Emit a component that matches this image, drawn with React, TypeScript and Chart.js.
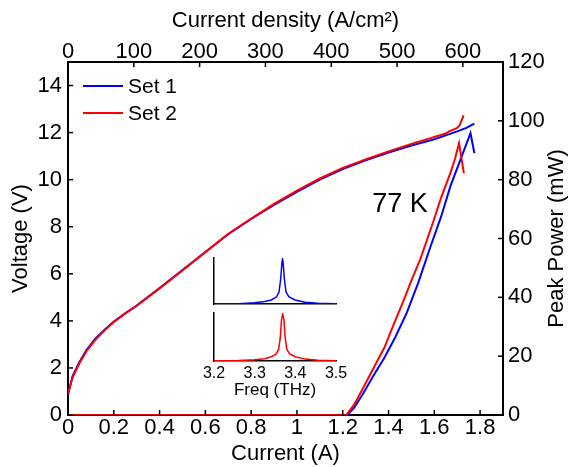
import React, { useEffect, useRef } from "react";
import { Chart, registerables } from "chart.js";

Chart.register(...registerables);

const FONT_FAMILY = "'Liberation Sans', Arial, Helvetica, sans-serif";

// ---------- Main L-I-V data (current in A) ----------
const set1VoltCurrent = [0, 0.02, 0.05, 0.08, 0.12, 0.16, 0.2, 0.25, 0.3, 0.4, 0.5, 0.6, 0.7, 0.8, 0.9, 1.0, 1.1, 1.2, 1.3, 1.4, 1.5, 1.6, 1.65, 1.7, 1.74, 1.775];
const set1Voltage = [0.88, 1.65, 2.25, 2.75, 3.25, 3.62, 3.97, 4.32, 4.65, 5.4, 6.16, 6.93, 7.68, 8.33, 8.93, 9.48, 10.0, 10.45, 10.82, 11.15, 11.45, 11.72, 11.88, 12.05, 12.2, 12.38];

const set2VoltCurrent = [0, 0.02, 0.05, 0.08, 0.12, 0.16, 0.2, 0.25, 0.3, 0.4, 0.5, 0.6, 0.7, 0.8, 0.9, 1.0, 1.1, 1.2, 1.3, 1.4, 1.5, 1.6, 1.65, 1.665, 1.7, 1.71, 1.728];
const set2Voltage = [0.9, 1.6, 2.2, 2.7, 3.2, 3.6, 3.95, 4.32, 4.64, 5.38, 6.14, 6.92, 7.7, 8.35, 8.97, 9.53, 10.05, 10.5, 10.86, 11.2, 11.52, 11.82, 11.96, 12.05, 12.2, 12.3, 12.73];

const set1PowerCurrent = [0, 0.2, 0.4, 0.6, 0.8, 1.0, 1.2, 1.22, 1.25, 1.29, 1.33, 1.38, 1.43, 1.48, 1.53, 1.58, 1.63, 1.67, 1.72, 1.758, 1.775];
const set1Power = [0, 0, 0, 0, 0, 0, 0, 0, 2.5, 7.4, 12.8, 19.2, 26.5, 34.8, 45, 56.5, 67.5, 77.7, 88, 95.8, 89];

const set2PowerCurrent = [0, 0.2, 0.4, 0.6, 0.8, 1.0, 1.2, 1.215, 1.25, 1.292, 1.33, 1.38, 1.42, 1.466, 1.5, 1.539, 1.598, 1.63, 1.67, 1.69, 1.708, 1.729];
const set2Power = [0, 0, 0, 0, 0, 0, 0, 0, 3.5, 9.6, 15.3, 22.6, 30.3, 39, 45.8, 53, 66.3, 74, 82.2, 87, 92.4, 82.2];

// ---------- Axis ticks ----------
const currentTicks = [0, 0.2, 0.4, 0.6, 0.8, 1, 1.2, 1.4, 1.6, 1.8];
const densityTicks = [0, 100, 200, 300, 400, 500, 600];
const voltageTicks = [0, 2, 4, 6, 8, 10, 12, 14];
const powerTicks = [0, 20, 40, 60, 80, 100, 120];

// ---------- Inset spectra (normalized) ----------
const specFreqTicks = [3.2, 3.3, 3.4, 3.5];
const spec1Freq = [3.2, 3.26, 3.3, 3.325, 3.341, 3.354, 3.36, 3.364, 3.367, 3.3685, 3.37, 3.373, 3.377, 3.384, 3.399, 3.424, 3.456, 3.5];
const spec1Amp = [0.0, 0.007, 0.03, 0.057, 0.09, 0.16, 0.27, 0.56, 0.91, 1.0, 0.91, 0.56, 0.27, 0.16, 0.09, 0.04, 0.014, 0.005];
const spec2Freq = [3.2, 3.26, 3.3, 3.325, 3.341, 3.352, 3.359, 3.363, 3.366, 3.369, 3.372, 3.375, 3.379, 3.386, 3.4, 3.424, 3.456, 3.5];
const spec2Amp = [0.003, 0.01, 0.025, 0.05, 0.09, 0.14, 0.25, 0.5, 0.88, 1.0, 0.88, 0.5, 0.25, 0.15, 0.09, 0.04, 0.015, 0.005];

// ---------- Labels ----------
const setLabels = ["Set 1", "Set 2"];
const setColors = ["#0000ff", "#ff0000"];
const xTitle = "Current (A)";
const x2Title = "Current density (A/cm\u00b2)";
const yTitle = "Voltage (V)";
const y2Title = "Peak Power (mW)";
const tempLabel = "77 K";
const insetXTitle = "Freq (THz)";

const toXY = (xs: number[], ys: number[]) => xs.map((x, i) => ({ x, y: ys[i] }));
const fixedTicks = (values: number[]) => (scale: any) => {
  scale.ticks = values.map((v) => ({ value: v }));
};
const fmt = (v: any) => String(+Number(v).toFixed(2));
const font = (size: number) => ({ family: FONT_FAMILY, size, weight: "normal" as const });

const decorPlugin = {
  id: "decor",
  afterDraw(chart: any) {
    const { ctx, chartArea: a, scales } = chart;
    ctx.save();
    // inward tick marks
    ctx.strokeStyle = "#000";
    ctx.lineWidth = 1.5;
    const len = 5;
    for (const s of Object.values(scales) as any[]) {
      for (const t of s.ticks) {
        const p = s.getPixelForValue(t.value);
        ctx.beginPath();
        if (s.position === "bottom") { ctx.moveTo(p, a.bottom); ctx.lineTo(p, a.bottom - len); }
        else if (s.position === "top") { ctx.moveTo(p, a.top); ctx.lineTo(p, a.top + len); }
        else if (s.position === "left") { ctx.moveTo(a.left, p); ctx.lineTo(a.left + len, p); }
        else { ctx.moveTo(a.right, p); ctx.lineTo(a.right - len, p); }
        ctx.stroke();
      }
    }
    // legend
    ctx.font = `21px ${FONT_FAMILY}`;
    ctx.textBaseline = "middle";
    ctx.textAlign = "left";
    setLabels.forEach((lab, i) => {
      const y = a.top + 24 + i * 27;
      ctx.strokeStyle = setColors[i];
      ctx.lineWidth = 2;
      ctx.beginPath();
      ctx.moveTo(a.left + 15, y);
      ctx.lineTo(a.left + 55, y);
      ctx.stroke();
      ctx.fillStyle = "#000";
      ctx.fillText(lab, a.left + 60, y + 1);
    });
    // temperature annotation
    ctx.font = `27px ${FONT_FAMILY}`;
    ctx.textAlign = "center";
    ctx.fillText(tempLabel, scales.x.getPixelForValue(1.45), scales.y.getPixelForValue(8.95));
    // right axis title (reads bottom to top)
    ctx.font = `22px ${FONT_FAMILY}`;
    ctx.translate(557, (a.top + a.bottom) / 2);
    ctx.rotate(-Math.PI / 2);
    ctx.fillText(y2Title, 0, 0);
    ctx.restore();
  },
};

const axisCommon = {
  type: "linear" as const,
  grid: { display: false, drawTicks: false },
  border: { display: true, color: "#000", width: 2 },
};

function makeMain(canvas: HTMLCanvasElement) {
  return new Chart(canvas, {
    type: "line",
    data: {
      datasets: [
        { label: setLabels[1] + " V", data: toXY(set2VoltCurrent, set2Voltage), borderColor: setColors[1], xAxisID: "x", yAxisID: "y", order: 0 },
        { label: setLabels[1] + " P", data: toXY(set2PowerCurrent, set2Power), borderColor: setColors[1], xAxisID: "x", yAxisID: "y2", order: 0 },
        { label: setLabels[0] + " V", data: toXY(set1VoltCurrent, set1Voltage), borderColor: setColors[0], xAxisID: "x", yAxisID: "y", order: 1 },
        { label: setLabels[0] + " P", data: toXY(set1PowerCurrent, set1Power), borderColor: setColors[0], xAxisID: "x", yAxisID: "y2", order: 1 },
      ].map((d) => ({ ...d, borderWidth: 2, pointRadius: 0, tension: 0, fill: false })),
    },
    options: {
      responsive: false,
      animation: false,
      devicePixelRatio: 1,
      layout: { padding: 0 },
      plugins: { legend: { display: false }, tooltip: { enabled: false } },
      scales: {
        x: {
          ...axisCommon, position: "bottom", min: 0, max: 1.9,
          afterBuildTicks: fixedTicks(currentTicks),
          afterFit: (s: any) => { s.height = 52; },
          ticks: { color: "#000", font: font(22), padding: 0, maxRotation: 0, autoSkip: false, callback: fmt },
          title: { display: true, text: xTitle, color: "#000", font: font(22), padding: { top: 0, bottom: 0 } },
        },
        x2: {
          ...axisCommon, position: "top", min: 0, max: 661,
          afterBuildTicks: fixedTicks(densityTicks),
          afterFit: (s: any) => { s.height = 62; },
          ticks: { color: "#000", font: font(22), padding: -3, maxRotation: 0, autoSkip: false, callback: fmt },
          title: { display: true, text: x2Title, color: "#000", font: font(22), padding: { top: 8, bottom: 0 } },
        },
        y: {
          ...axisCommon, position: "left", min: 0, max: 15,
          afterBuildTicks: fixedTicks(voltageTicks),
          afterFit: (s: any) => { s.width = 68; },
          ticks: { color: "#000", font: font(22), padding: 6, autoSkip: false, callback: fmt },
          title: { display: true, text: yTitle, color: "#000", font: font(22), padding: { top: 8, bottom: 0 } },
        },
        y2: {
          ...axisCommon, position: "right", min: 0, max: 120,
          afterBuildTicks: fixedTicks(powerTicks),
          afterFit: (s: any) => { s.width = 66; },
          ticks: { color: "#000", font: font(22), padding: 5, autoSkip: false, callback: fmt },
          title: { display: false },
        },
      },
    },
    plugins: [decorPlugin],
  } as any);
}

function makeInset(canvas: HTMLCanvasElement, freq: number[], amp: number[], color: string, withLabels: boolean, pad: any, yWidth: number, xHeight: number) {
  return new Chart(canvas, {
    type: "line",
    data: {
      datasets: [{ data: toXY(freq, amp), borderColor: color, borderWidth: 1.5, pointRadius: 0, tension: 0, fill: false }],
    },
    options: {
      responsive: false,
      animation: false,
      devicePixelRatio: 1,
      layout: { padding: pad },
      plugins: { legend: { display: false }, tooltip: { enabled: false } },
      scales: {
        x: {
          type: "linear", position: "bottom", min: 3.2, max: 3.5,
          afterBuildTicks: fixedTicks(specFreqTicks),
          afterFit: (s: any) => { s.height = xHeight; },
          grid: { display: false, drawTicks: false },
          border: { display: true, color: "#000", width: 1.5 },
          ticks: { display: withLabels, color: "#000", font: font(16), padding: 3, maxRotation: 0, autoSkip: false, callback: fmt },
          title: { display: withLabels, text: insetXTitle, color: "#000", font: font(17), padding: { top: 0, bottom: 4 } },
        },
        y: {
          type: "linear", position: "left", min: 0, max: 1.02,
          afterFit: (s: any) => { s.width = yWidth; },
          grid: { display: false, drawTicks: false },
          border: { display: true, color: "#000", width: 1.5 },
          ticks: { display: false },
        },
      },
    },
  } as any);
}

export default function App() {
  const mainRef = useRef<HTMLCanvasElement>(null);
  const in1Ref = useRef<HTMLCanvasElement>(null);
  const in2Ref = useRef<HTMLCanvasElement>(null);

  useEffect(() => {
    const charts: Chart[] = [];
    if (mainRef.current) charts.push(makeMain(mainRef.current));
    if (in1Ref.current) charts.push(makeInset(in1Ref.current, spec1Freq, spec1Amp, setColors[0], false, { top: 8, right: 4, left: 0, bottom: 0 }, 14, 6));
    if (in2Ref.current) charts.push(makeInset(in2Ref.current, spec2Freq, spec2Amp, setColors[1], true, { top: 8, right: 19, left: 0, bottom: 0 }, 19, 44));
    return () => charts.forEach((c) => c.destroy());
  }, []);

  return (
    <div style={{ position: "absolute", left: 0, top: 0, width: 569, height: 467, background: "#fff", overflow: "hidden" }}>
      <canvas ref={mainRef} width={569} height={467} style={{ position: "absolute", left: 0, top: 0, width: 569, height: 467 }} />
      <canvas ref={in1Ref} width={140} height={60} style={{ position: "absolute", left: 200, top: 250, width: 140, height: 60 }} />
      <canvas ref={in2Ref} width={160} height={100} style={{ position: "absolute", left: 195, top: 305, width: 160, height: 100 }} />
    </div>
  );
}
